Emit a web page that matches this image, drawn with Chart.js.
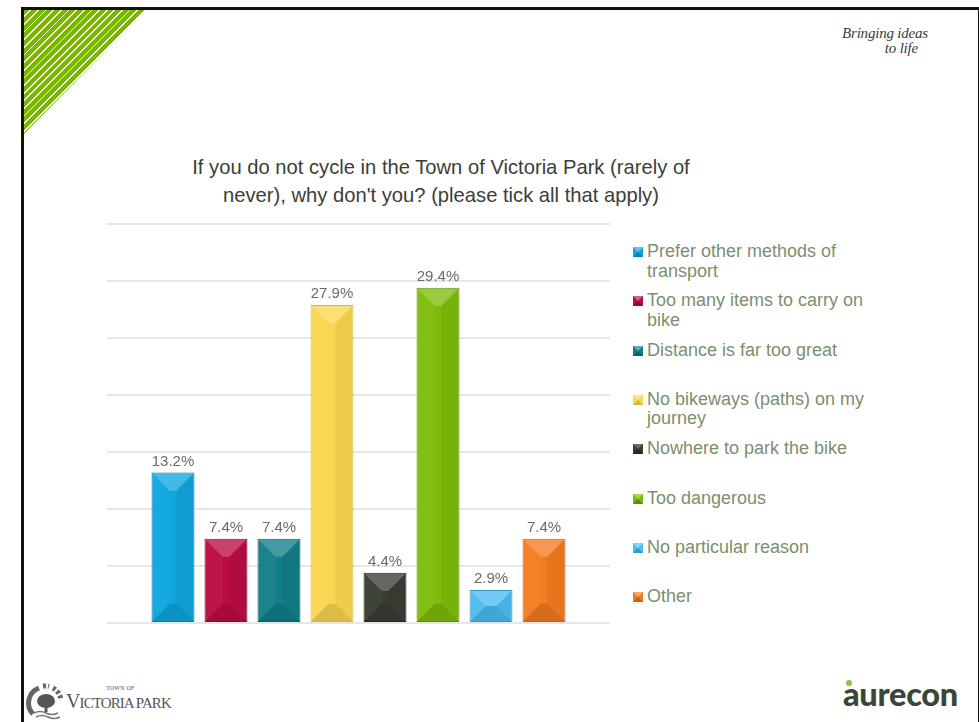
<!DOCTYPE html>
<html>
<head>
<meta charset="utf-8">
<script src="https://cdn.jsdelivr.net/npm/chart.js@4.4.1/dist/chart.umd.min.js"></script>
<style>
  html, body { margin: 0; padding: 0; background: #fff; }
  body { width: 979px; height: 722px; position: relative; overflow: hidden; font-family: "Liberation Sans", Arial, sans-serif; }
  .frame { position: absolute; left: 21px; top: 7px; width: 954px; height: 740px; border: 3px solid #111; border-bottom: none; box-sizing: content-box; }
  .corner { position: absolute; left: 24px; top: 10px; width: 122px; height: 124px;
            background: repeating-linear-gradient(135deg, #7ab800 0 4.2px, #ffffff 4.2px 5.4px);
            clip-path: polygon(0 0, 100% 0, 0 100%); }
  .tagline { position: absolute; left: 836px; top: 26px; width: 92px; font-family: "Liberation Serif", serif; font-style: italic;
             font-size: 15px; line-height: 15px; color: #3a3a3a; text-align: right; white-space: nowrap; letter-spacing: -0.2px; }
  .tagline span { display: block; }
  .title { position: absolute; left: 141px; top: 153px; width: 600px; text-align: center; font-size: 20.2px; line-height: 28px; color: #3b4036; }
  #wrap { position: absolute; left: 107px; top: 200px; width: 503px; height: 430px; }
  .legend { position: absolute; left: 633px; top: 0; }
  .item { position: absolute; left: 0; width: 250px; }
  .item .mk { position: absolute; left: 0; top: 5px; width: 0; height: 0; border-style: solid; border-width: 5px; }
  .item .tx { position: absolute; left: 14px; top: 0; width: 236px; font-size: 18px; line-height: 19.5px; color: #7b8f6e; }
  .vp { position: absolute; left: 25px; top: 682px; }
  .vp-text { position: absolute; left: 66px; top: 685px; font-family: "Liberation Serif", serif; color: #555; white-space: nowrap; }
  .vp-town { position: absolute; left: 40px; top: 0; font-size: 6px; letter-spacing: 0.2px; }
  .vp-name { position: absolute; left: 0; top: 5px; font-size: 15px; letter-spacing: -0.9px; }
  .vp-name b { font-weight: normal; font-size: 20px; }
  .aurecon { position: absolute; left: 843px; top: 674px; font-family: Lato, "Open Sans", sans-serif; font-weight: 900; font-size: 32.5px; color: #3b4736; letter-spacing: -0.3px; }
  .dot { position: absolute; left: 846px; top: 680px; width: 6px; height: 6px; border-radius: 50%; background: #8dc63f; }
</style>
</head>
<body>
<div class="frame"></div>
<div class="corner"></div>
<div class="tagline"><span>Bringing ideas</span><span style="padding-right:10px">to life</span></div>

<div class="title">If you do not cycle in the Town of Victoria Park (rarely of<br>never), why don't you? (please tick all that apply)</div>

<div id="wrap"><canvas id="chart"></canvas></div>
<div class="legend" id="legend"></div>

<svg class="vp" width="40" height="40" viewBox="0 0 40 40">
  <g fill="none" stroke="#666" stroke-width="5">
    <path d="M 8 32 A 16 16 0 0 1 14 6"/>
    <path d="M 18 4 A 16 16 0 0 1 24 4.5" stroke-dasharray="3 2"/>
    <path d="M 28 6 A 16 16 0 0 1 36 18" stroke-dasharray="3 2"/>
  </g>
  <ellipse cx="21" cy="19" rx="9" ry="7" fill="#555"/>
  <rect x="19.5" y="23" width="3" height="7" fill="#555"/>
  <path d="M 9 31 Q 15 28 21 31 T 33 31" fill="none" stroke="#777" stroke-width="1.5"/>
  <path d="M 11 35 Q 17 32 23 35 T 35 35" fill="none" stroke="#777" stroke-width="1.5"/>
</svg>
<div class="vp-text">
  <div class="vp-town">TOWN OF</div>
  <div class="vp-name"><b>V</b>ICTORIA PARK</div>
</div>

<div class="aurecon">aurecon</div>
<div class="dot"></div>

<script>
// Reasons for not cycling, share of respondents (%)
const categories = [
  'Prefer other methods of transport',
  'Too many items to carry on bike',
  'Distance is far too great',
  'No bikeways (paths) on my journey',
  'Nowhere to park the bike',
  'Too dangerous',
  'No particular reason',
  'Other'
];
const values = [13.2, 7.4, 7.4, 27.9, 4.4, 29.4, 2.9, 7.4];
const yTicks = [0, 5, 10, 15, 20, 25, 30, 35];

const fills   = ['#0ea6df', '#bb0d42', '#127f88', '#fbd650', '#393e34', '#7fbc0a', '#4cbdf0', '#f47c20'];
const edges   = ['#0a7fae', '#8d0a32', '#0c5f66', '#d7b43a', '#23271f', '#5f8e06', '#3597c2', '#c8601a'];

// Bevelled faces on each bar, positioned from the bar element itself
const bevelPlugin = {
  id: 'bevel',
  afterDatasetsDraw(chart) {
    const ctx = chart.ctx;
    chart.data.datasets.forEach((ds, i) => {
      const meta = chart.getDatasetMeta(i);
      meta.data.forEach(bar => {
        const p = bar.getProps(['x', 'y', 'base', 'width'], true);
        const L = p.x - p.width / 2 + 1, R = p.x + p.width / 2 - 1;
        const T = p.y + 1, B = p.base - 1;
        const h = B - T, w = R - L;
        const b = Math.min(w * 0.42, h / 2);
        const face = (pts, style) => {
          ctx.beginPath();
          ctx.moveTo(pts[0][0], pts[0][1]);
          for (let k = 1; k < pts.length; k++) ctx.lineTo(pts[k][0], pts[k][1]);
          ctx.closePath();
          ctx.fillStyle = style;
          ctx.fill();
        };
        ctx.save();
        face([[L, T], [R, T], [R - b, T + b], [L + b, T + b]], 'rgba(255,255,255,0.22)');
        face([[L, T], [L + b, T + b], [L + b, B - b], [L, B]], 'rgba(255,255,255,0.035)');
        face([[R, T], [R - b, T + b], [R - b, B - b], [R, B]], 'rgba(0,0,0,0.05)');
        face([[L, B], [L + b, B - b], [R - b, B - b], [R, B]], 'rgba(0,0,0,0.12)');
        ctx.restore();
      });
    });
  }
};

// Percentage labels above the bars
const valueLabels = {
  id: 'valueLabels',
  afterDatasetsDraw(chart) {
    const ctx = chart.ctx;
    ctx.save();
    ctx.font = '15px "Liberation Sans", Arial, sans-serif';
    ctx.fillStyle = '#656f5f';
    ctx.textAlign = 'center';
    ctx.textBaseline = 'alphabetic';
    chart.data.datasets.forEach((ds, i) => {
      chart.getDatasetMeta(i).data.forEach((bar, j) => {
        ctx.fillText(ds.data[j].toFixed(1) + '%', bar.x, bar.y - 7);
      });
    });
    ctx.restore();
  }
};

const datasets = categories.map((name, i) => ({
  label: name,
  data: [values[i]],
  backgroundColor: fills[i],
  borderColor: edges[i],
  borderWidth: 1,
  borderSkipped: false
}));

new Chart(document.getElementById('chart'), {
  type: 'bar',
  data: { labels: [''], datasets },
  options: {
    responsive: true,
    maintainAspectRatio: false,
    animation: false,
    layout: { padding: { top: 24, bottom: 7, left: 0, right: 0 } },
    categoryPercentage: 0.843,
    barPercentage: 0.81,
    plugins: { legend: { display: false }, tooltip: { enabled: false } },
    scales: {
      x: { display: false },
      y: {
        min: yTicks[0],
        max: yTicks[yTicks.length - 1],
        afterBuildTicks: s => { s.ticks = yTicks.map(v => ({ value: v })); },
        ticks: { display: false },
        border: { display: false },
        grid: { color: '#e6e6e6', lineWidth: 2, drawTicks: false }
      }
    }
  },
  plugins: [bevelPlugin, valueLabels]
});

function lighten(hex) {
  const n = parseInt(hex.slice(1), 16);
  const mix = c => Math.round(c + (255 - c) * 0.35);
  return 'rgb(' + mix(n >> 16) + ',' + mix((n >> 8) & 255) + ',' + mix(n & 255) + ')';
}

// Legend entries, one slot per reason
const legend = document.getElementById('legend');
categories.forEach((name, i) => {
  const item = document.createElement('div');
  item.className = 'item';
  item.style.top = (242 + i * 49.3) + 'px';
  const mk = document.createElement('div');
  mk.className = 'mk';
  mk.style.borderColor = fills[i];
  mk.style.borderTopColor = fills[i] === '#393e34' ? '#6b7066' : lighten(fills[i]);
  mk.style.borderBottomColor = edges[i];
  const tx = document.createElement('div');
  tx.className = 'tx';
  tx.textContent = name;
  item.appendChild(mk);
  item.appendChild(tx);
  legend.appendChild(item);
});
</script>
</body>
</html>
